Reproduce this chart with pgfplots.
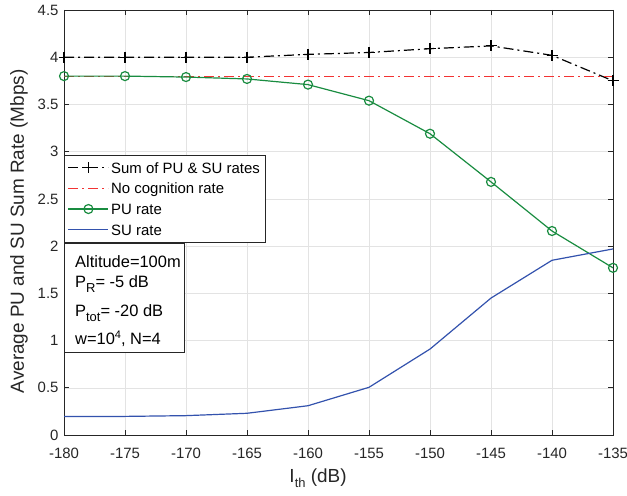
\documentclass[border=0pt]{standalone}
\usepackage{fontspec}
\setmainfont{Liberation Sans}
\usepackage{pgfplots}
\pgfplotsset{compat=1.18}
\definecolor{axgray}{rgb}{0.15,0.15,0.15}
\definecolor{pugreen}{rgb}{0.10,0.55,0.25}
\definecolor{sublue}{rgb}{0.20,0.32,0.68}
\definecolor{ncred}{rgb}{0.95,0.20,0.20}
\pgfplotsset{longleg/.style={legend image code/.code={\draw[mark repeat=2,mark phase=2,##1,line width=1.5bp] plot coordinates {(0bp,0bp) (20bp,0bp) (40bp,0bp)};}}}
\begin{document}
\begin{tikzpicture}
\begin{axis}[
  scale only axis,
  width=549bp, height=425bp,
  xmin=-180, xmax=-135, ymin=0, ymax=4.5,
  xtick={-180,-175,...,-135},
  ytick={0,0.5,...,4.5},
  /pgf/number format/assume math mode=true,
  /pgf/number format/fixed,
  yticklabel style={/pgf/number format/precision=1, xshift=-2bp},
  xticklabel style={yshift=-10bp},
  tick label style={font=\fontsize{15}{18}\selectfont, text=axgray},
  axis line style={axgray, line width=0.6bp},
  tick style={axgray, line width=0.6bp},
  major tick length=5bp,
  tick align=inside,
  xtick pos=both, ytick pos=both,
  grid=major,
  major grid style={gray!22, line width=0.5bp},
  xlabel={I\raisebox{-0.55ex}{\fontsize{13}{15}\selectfont th} (dB)},
  ylabel={Average PU and SU Sum Rate (Mbps)},
  xlabel style={at={(rel axis cs:0.4627,-0.1012)}, anchor=center},
  ylabel style={at={(rel axis cs:-0.082,0.479)}, anchor=center},
  label style={font=\fontsize{19}{22}\selectfont, text=axgray},
  legend cell align=left,
  legend style={at={(rel axis cs:0,0.659)}, anchor=north west,
    font=\fontsize{15}{18}\selectfont, draw=axgray,
    inner xsep=3.5bp, inner ysep=3bp, row sep=1.7bp, fill=white,
    nodes={inner sep=2bp, text height=13bp, text depth=2bp}},
]
\addplot[longleg, black, line width=1.2bp, dash pattern=on 10bp off 4bp on 2bp off 4bp, mark=+, mark size=5.5bp, mark options={solid, line width=1.2bp}]
coordinates {(-180,4.00) (-175,4.00) (-170,4.00) (-165,4.00) (-160,4.03) (-155,4.05) (-150,4.09) (-145,4.12) (-140,4.02) (-135,3.75)};
\addlegendentry{Sum of PU \& SU rates}
\addplot[longleg, ncred, line width=1.2bp, dash pattern=on 10bp off 4bp on 2bp off 4bp]
coordinates {(-180,3.8) (-175,3.8) (-170,3.8) (-165,3.8) (-160,3.8) (-155,3.8) (-150,3.8) (-145,3.8) (-140,3.8) (-135,3.8)};
\addlegendentry{No cognition rate}
\addplot[longleg, pugreen, line width=1.2bp, mark=o, mark size=4.5bp, mark options={solid, line width=1.2bp}]
coordinates {(-180,3.80) (-175,3.80) (-170,3.79) (-165,3.77) (-160,3.71) (-155,3.54) (-150,3.19) (-145,2.68) (-140,2.16) (-135,1.77)};
\addlegendentry{PU rate}
\addplot[longleg, sublue, line width=1.2bp]
coordinates {(-180,0.195) (-175,0.197) (-170,0.205) (-165,0.23) (-160,0.31) (-155,0.505) (-150,0.91) (-145,1.45) (-140,1.85) (-135,1.97)};
\addlegendentry{SU rate}
\draw[axgray, line width=0.6bp, fill=white] (rel axis cs:0,0.4518) rectangle (rel axis cs:0.2186,0.1953);
\node[anchor=base west, inner sep=0pt, text=black, font=\fontsize{16.5}{20}\selectfont] at (rel axis cs:0.02,0.3953) {Altitude=100m};
\node[anchor=base west, inner sep=0pt, text=black, font=\fontsize{16.5}{20}\selectfont] at (rel axis cs:0.02,0.3482) {P\raisebox{-0.6ex}{\fontsize{13}{15}\selectfont R}= -5 dB};
\node[anchor=base west, inner sep=0pt, text=black, font=\fontsize{16.5}{20}\selectfont] at (rel axis cs:0.02,0.2800) {P\raisebox{-0.6ex}{\fontsize{13}{15}\selectfont tot}= -20 dB};
\node[anchor=base west, inner sep=0pt, text=black, font=\fontsize{16.5}{20}\selectfont] at (rel axis cs:0.02,0.2118) {w=10\raisebox{0.75ex}{\fontsize{11}{13}\selectfont 4}, N=4};
\end{axis}
\pgfresetboundingbox
\path ([shift={(-64bp,-60bp)}]current axis.south west) rectangle ([shift={(14bp,10bp)}]current axis.north east);
\end{tikzpicture}
\end{document}
